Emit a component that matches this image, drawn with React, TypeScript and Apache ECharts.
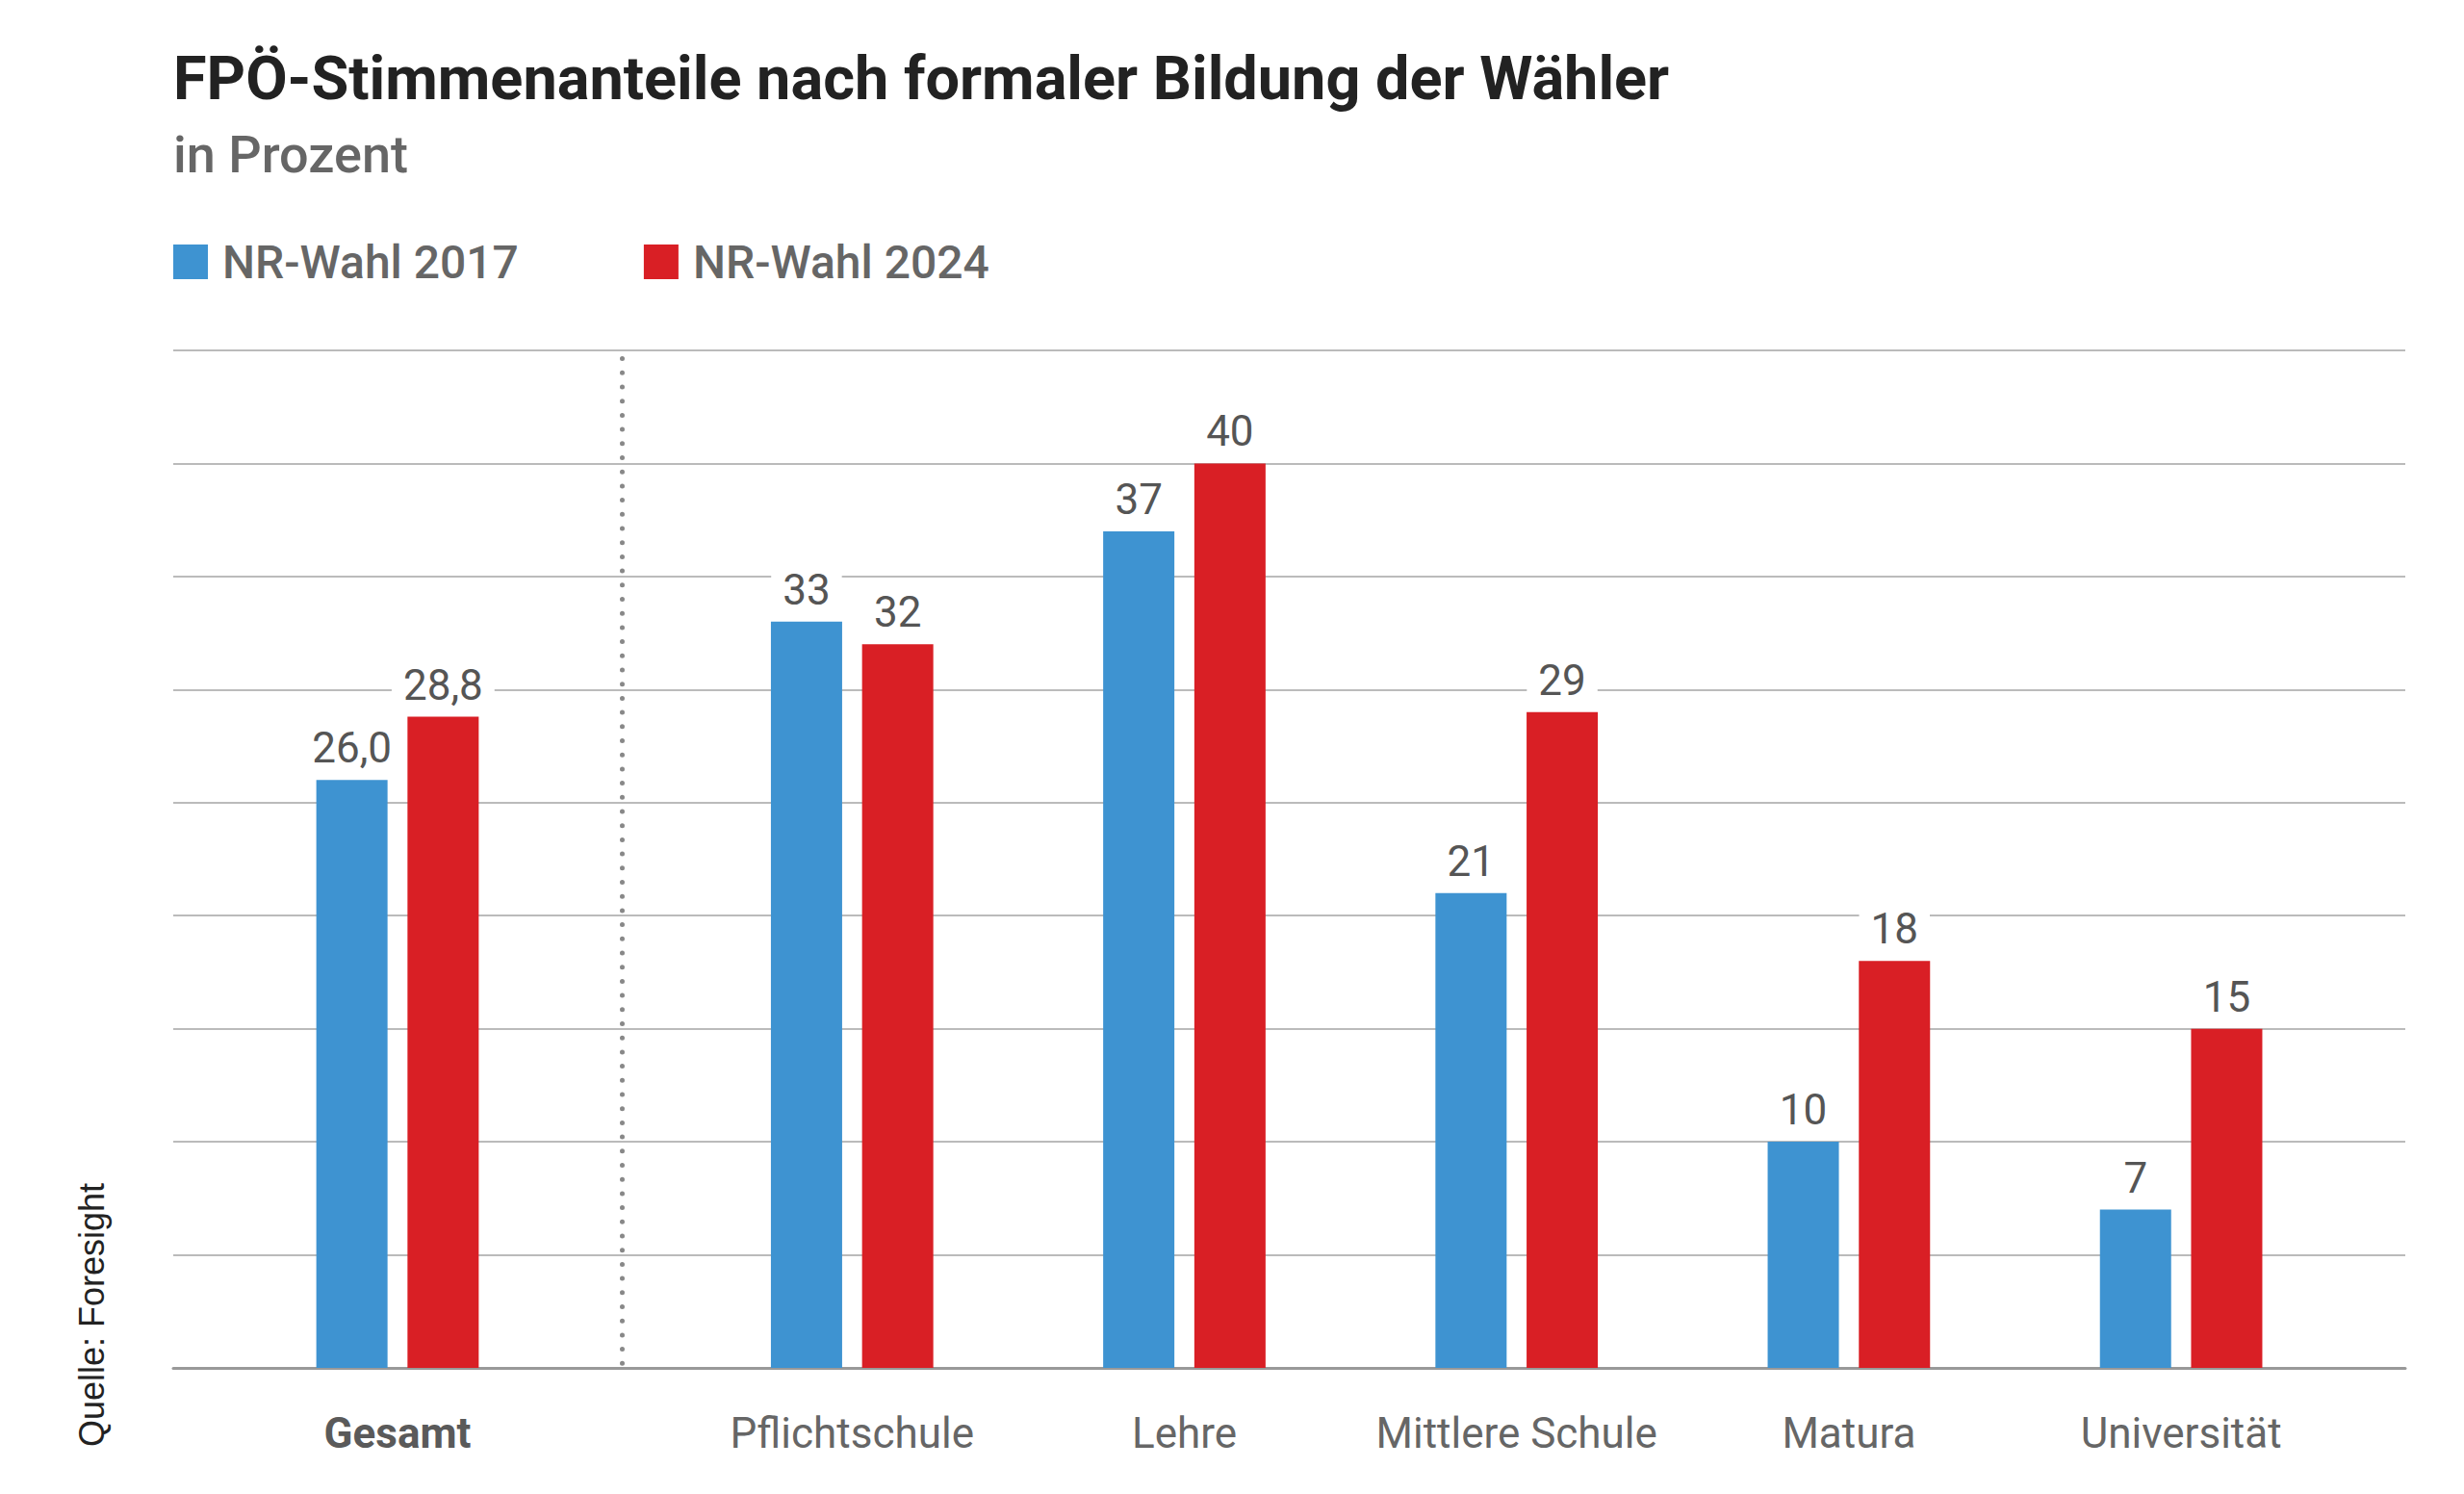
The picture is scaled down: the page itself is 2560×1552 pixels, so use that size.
import React, { useEffect, useRef } from "react";
import * as echarts from "echarts";

const TITLE = "FPÖ-Stimmenanteile nach formaler Bildung der Wähler";
const SUBTITLE = "in Prozent";
const SOURCE = "Quelle: Foresight";
const SERIES_NAMES = ["NR-Wahl 2017", "NR-Wahl 2024"];
const COLORS = ["#3E93D1", "#D91F25"];

const totalCategory = ["Gesamt"];
const total2017 = [26.0];
const total2024 = [28.8];

const categories = ["Pflichtschule", "Lehre", "Mittlere Schule", "Matura", "Universität"];
const values2017 = [33, 37, 21, 10, 7];
const values2024 = [32, 40, 29, 18, 15];

const Y_MAX = 45;
const Y_INTERVAL = 5;

const FONT = "Roboto";

export default function App() {
  const ref = useRef<HTMLDivElement>(null);

  useEffect(() => {
    if (!ref.current) return;
    const chart = echarts.init(ref.current, null, { renderer: "svg" });

    const top = 364;
    const bottom = 131;

    const valueLabel = (decimals: number) => ({
      show: true,
      position: "top",
      distance: 9,
      fontFamily: FONT,
      fontSize: 44,
      color: "#555",
      backgroundColor: "#fff",
      padding: [2, 12],
      formatter: (p: any) => Number(p.value).toFixed(decimals).replace(".", ","),
    });

    const barCommon = {
      type: "bar",
      barWidth: 74,
      barGap: "28%",
    };

    const hiddenY = (gridIndex: number) => ({
      type: "value",
      gridIndex,
      min: 0,
      max: Y_MAX,
      interval: Y_INTERVAL,
      show: false,
    });

    const catLabel = {
      fontFamily: FONT,
      fontSize: 44,
      color: "#666",
      margin: 46,
      interval: 0,
    };

    const option: any = {
      animation: false,
      backgroundColor: "#fff",
      title: [
        {
          text: TITLE,
          left: 180,
          top: 50,
          padding: 0,
          textStyle: { fontFamily: FONT, fontSize: 63, fontWeight: "bold", color: "#222" },
        },
        {
          text: SUBTITLE,
          left: 180,
          top: 133,
          padding: 0,
          textStyle: { fontFamily: FONT, fontSize: 54, fontWeight: 500, color: "#666" },
        },
      ],
      legend: {
        left: 180,
        top: 248,
        padding: 0,
        itemWidth: 36,
        itemHeight: 36,
        itemGap: 130,
        icon: "rect",
        data: SERIES_NAMES,
        textStyle: {
          fontFamily: FONT,
          fontSize: 48,
          fontWeight: 500,
          color: "#666",
          padding: [0, 0, 0, 10],
        },
      },
      grid: [
        { left: 180, right: 61, top, bottom },
        { left: 180, width: 466, top, bottom },
        { left: 712.7, width: 1726, top, bottom },
      ],
      xAxis: [
        {
          type: "value",
          gridIndex: 0,
          min: 0,
          max: 1,
          axisLine: { show: true, onZero: false, lineStyle: { color: "#999", width: 3 } },
          axisTick: { show: false },
          axisLabel: { show: false },
          splitLine: { show: false },
        },
        {
          type: "category",
          gridIndex: 1,
          data: totalCategory,
          axisLine: { show: false },
          axisTick: { show: false },
          axisLabel: { ...catLabel, fontWeight: "bold", color: "#5a5a5a" },
        },
        {
          type: "category",
          gridIndex: 2,
          data: categories,
          axisLine: { show: false },
          axisTick: { show: false },
          axisLabel: catLabel,
        },
      ],
      yAxis: [
        {
          type: "value",
          gridIndex: 0,
          min: 0,
          max: Y_MAX,
          interval: Y_INTERVAL,
          axisLine: { show: false },
          axisTick: { show: false },
          axisLabel: { show: false },
          splitLine: { show: true, lineStyle: { color: "#bbb", width: 2 } },
        },
        {
          type: "value",
          gridIndex: 1,
          min: 0,
          max: Y_MAX,
          interval: Y_INTERVAL,
          position: "right",
          axisLine: {
            show: true,
            lineStyle: { color: "#888", width: 5, type: [0, 14.7], cap: "round", dashOffset: 10 },
          },
          axisTick: { show: false },
          axisLabel: { show: false },
          splitLine: { show: false },
        },
        hiddenY(2),
      ],
      series: [
        {
          ...barCommon,
          name: SERIES_NAMES[0],
          xAxisIndex: 1,
          yAxisIndex: 1,
          data: total2017,
          itemStyle: { color: COLORS[0] },
          label: valueLabel(1),
        },
        {
          ...barCommon,
          name: SERIES_NAMES[1],
          xAxisIndex: 1,
          yAxisIndex: 1,
          data: total2024,
          itemStyle: { color: COLORS[1] },
          label: valueLabel(1),
        },
        {
          ...barCommon,
          name: SERIES_NAMES[0],
          xAxisIndex: 2,
          yAxisIndex: 2,
          data: values2017,
          itemStyle: { color: COLORS[0] },
          label: valueLabel(0),
        },
        {
          ...barCommon,
          name: SERIES_NAMES[1],
          xAxisIndex: 2,
          yAxisIndex: 2,
          data: values2024,
          itemStyle: { color: COLORS[1] },
          label: valueLabel(0),
        },
      ],
      graphic: [
        {
          type: "text",
          x: 95,
          y: 1366,
          rotation: Math.PI / 2,
          style: {
            text: SOURCE,
            fontFamily: "Liberation Sans",
            fontSize: 36,
            fill: "#222",
            align: "center",
            verticalAlign: "middle",
          },
        },
      ],
    };

    chart.setOption(option);
    return () => chart.dispose();
  }, []);

  return (
    <div
      ref={ref}
      style={{ position: "absolute", left: 0, top: 0, width: 2560, height: 1552 }}
    />
  );
}
